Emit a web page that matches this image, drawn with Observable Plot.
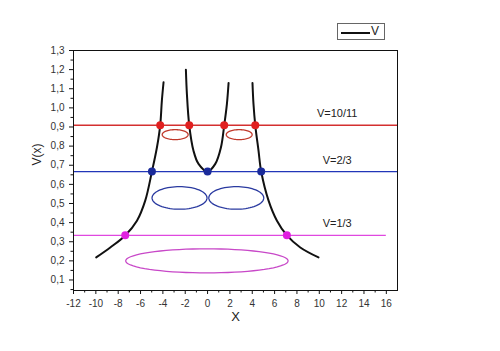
<!DOCTYPE html>
<html>
<head>
<meta charset="utf-8">
<script src="https://cdn.jsdelivr.net/npm/d3@7"></script>
<script src="https://cdn.jsdelivr.net/npm/@observablehq/plot@0.6"></script>
<style>
  html, body { margin: 0; padding: 0; background: #fff; }
  #wrap { position: relative; width: 500px; height: 351px; }
  #legend { position: absolute; left: 337px; top: 23px; width: 46px; height: 15px;
            border: 1px solid #666; background: #fff; font: 12px "Liberation Sans", Arial, sans-serif; color: #222; }
  #legend svg { position: absolute; left: 2px; top: 0; }
  #legend span { position: absolute; left: 33px; top: 0px; line-height: 15px; }
</style>
</head>
<body>
<div id="wrap"><div id="chart"></div>
<div id="legend"><svg width="32" height="15"><line x1="1" x2="30" y1="9" y2="9" stroke="#111" stroke-width="2"/></svg><span>V</span></div>
</div>
<script>
// Potential curve V(x), three branches
const leftX  = [-3.94, -4.09, -4.24, -4.53, -4.98, -5.58, -6.32, -7.37, -8.71, -9.97];
const leftV  = [1.134, 1.038, 0.909, 0.794, 0.667, 0.515, 0.41, 0.333, 0.27, 0.218];
const midX   = [-1.94, -1.85, -1.64, -1.26, -0.81, 0.0, 0.69, 1.2, 1.49, 1.73, 1.88];
const midV   = [1.199, 1.073, 0.909, 0.776, 0.707, 0.667, 0.707, 0.794, 0.909, 1.02, 1.13];
const rightX = [4.02, 4.11, 4.27, 4.56, 4.80, 5.46, 6.21, 7.1, 8.3, 9.93];
const rightV = [1.13, 1.02, 0.909, 0.776, 0.667, 0.515, 0.41, 0.333, 0.27, 0.218];

// Energy levels
const levelV      = [10/11, 2/3, 1/3];
const levelName   = ["V=10/11", "V=2/3", "V=1/3"];
const levelEnd    = [17, 17, 16];
const levelColor  = ["#d43030", "#2236b8", "#e048e0"];
const levelLabelX = [11.6, 11.6, 11.6];
const levelLabelY = [0.97, 0.724, 0.393];

// Turning points
const redDotsX     = [-4.24, -1.64, 1.49, 4.27];
const blueDotsX    = [-4.98, 0.0, 4.80];
const magentaDotsX = [-7.37, 7.1];

// Orbits (ellipses): centre and half-widths in data units
const orbitCX    = [-2.9, 2.83, -2.51, 2.57, -0.06];
const orbitCY    = [0.86, 0.86, 0.529, 0.529, 0.2];
const orbitRX    = [1.16, 1.16, 2.46, 2.46, 7.27];
const orbitRY    = [0.026, 0.026, 0.059, 0.059, 0.063];
const orbitColor = ["#c0392b", "#c0392b", "#2a3aa0", "#2a3aa0", "#c848c8"];

// Axis ticks
const xTicks = d3.range(-12, 17, 2);
const xMinor = d3.range(-11, 17, 2);
const yTicks = d3.range(1, 14).map(i => i / 10);
const yMinor = d3.range(1, 14).map(i => i / 10 - 0.05);

const branch = (xs, vs, id) => xs.map((x, i) => ({x, v: vs[i], id}));
const curve = [...branch(leftX, leftV, "L"), ...branch(midX, midV, "M"), ...branch(rightX, rightV, "R")];
const levels = levelV.map((v, i) => ({v, name: levelName[i], end: levelEnd[i], color: levelColor[i], lx: levelLabelX[i], ly: levelLabelY[i]}));
const dots = [
  ...redDotsX.map(x => ({x, v: levelV[0], c: "#e02020"})),
  ...blueDotsX.map(x => ({x, v: levelV[1], c: "#1a2a9a"})),
  ...magentaDotsX.map(x => ({x, v: levelV[2], c: "#e020e0"}))
];
const orbits = [];
orbitCX.forEach((cx, k) => {
  for (let j = 0; j <= 72; j++) {
    const t = j / 72 * 2 * Math.PI;
    orbits.push({x: cx + orbitRX[k] * Math.cos(t), v: orbitCY[k] + orbitRY[k] * Math.sin(t), k, c: orbitColor[k]});
  }
});
const comma = d => d3.format(".1f")(d).replace(".", ",");

const chart = Plot.plot({
  width: 500, height: 351,
  marginLeft: 73, marginRight: 103, marginTop: 50, marginBottom: 61,
  style: {fontFamily: "'Liberation Sans', Arial, sans-serif", fontSize: "10px", background: "#fff", color: "#333"},
  x: {domain: [-12, 17]},
  y: {domain: [0.045, 1.3]},
  marks: [
    Plot.ruleY(levels, {y: "v", x1: -12, x2: "end", stroke: "color", strokeWidth: 1.4}),
    Plot.line(orbits, {x: "x", y: "v", z: "k", stroke: "c", strokeWidth: 1.3}),
    Plot.line(curve, {x: "x", y: "v", z: "id", stroke: "#111", strokeWidth: 2, curve: "catmull-rom"}),
    Plot.dot(dots, {x: "x", y: "v", fill: "c", r: 4}),
    Plot.text(levels, {x: "lx", y: "ly", text: "name", fontSize: 11, fill: "#222"}),
    Plot.frame({stroke: "#111"}),
    Plot.axisX({ticks: xTicks, tickSize: 4, tickFormat: d => d, label: null, stroke: "#111"}),
    Plot.axisX({ticks: xMinor, tickSize: 2.5, tickFormat: () => "", label: null, stroke: "#111"}),
    Plot.axisY({ticks: yTicks, tickSize: 4, tickFormat: comma, label: null, stroke: "#111"}),
    Plot.axisY({ticks: yMinor, tickSize: 2.5, tickFormat: () => "", label: null, stroke: "#111"}),
    Plot.text(["V(x)"], {text: d => d, frameAnchor: "left", dx: -36, dy: -5, rotate: -90, fontSize: 12, fill: "#222"}),
    Plot.text(["X"], {text: d => d, frameAnchor: "bottom", dy: 30, fontSize: 13, fill: "#222"})
  ]
});
document.getElementById("chart").appendChild(chart);
</script>
</body>
</html>
